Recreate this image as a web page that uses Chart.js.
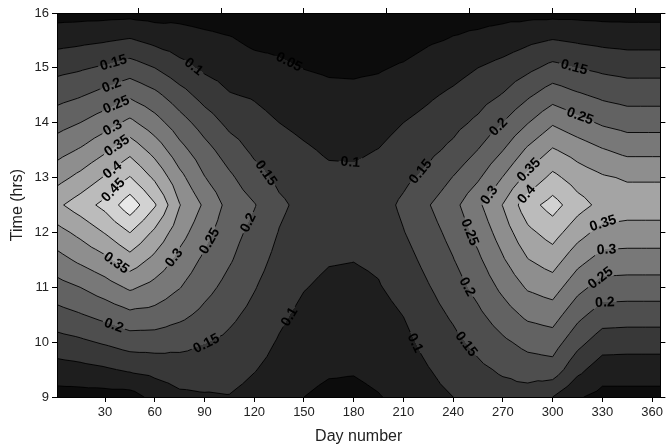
<!DOCTYPE html>
<html>
<head>
<meta charset="utf-8">
<script src="https://cdn.jsdelivr.net/npm/chart.js@4.4.1/dist/chart.umd.min.js"></script>
<style>
  html, body { margin: 0; padding: 0; background: #fff; }
</style>
</head>
<body>
<canvas id="myChart" width="666" height="446"></canvas>
<script>
const ctx = document.getElementById('myChart');

const dayNumbers = [1, 15, 30, 45, 60, 75, 90, 105, 120, 135, 150, 165, 180, 195, 210, 225, 240, 255, 270, 285, 300, 315, 330, 345, 365];
const hours = [9, 9.5, 10, 10.5, 11, 11.5, 12, 12.5, 13, 13.5, 14, 14.5, 15, 15.5, 16];

// one row per day number, from 9 hrs up to 16 hrs
const values = [
    [0.030, 0.079, 0.131, 0.182, 0.231, 0.282, 0.333, 0.390, 0.332, 0.280, 0.230, 0.182, 0.135, 0.083, 0.031], // 1
    [0.030, 0.085, 0.141, 0.197, 0.250, 0.310, 0.363, 0.425, 0.364, 0.305, 0.250, 0.196, 0.144, 0.089, 0.032], // 15
    [0.030, 0.094, 0.156, 0.216, 0.277, 0.338, 0.403, 0.465, 0.405, 0.342, 0.278, 0.217, 0.157, 0.096, 0.033], // 30
    [0.030, 0.107, 0.173, 0.238, 0.308, 0.380, 0.451, 0.530, 0.453, 0.384, 0.312, 0.242, 0.174, 0.105, 0.035], // 45
    [0.065, 0.116, 0.173, 0.233, 0.283, 0.336, 0.390, 0.455, 0.391, 0.331, 0.270, 0.213, 0.150, 0.087, 0.030], // 60
    [0.090, 0.125, 0.165, 0.213, 0.252, 0.284, 0.320, 0.352, 0.315, 0.267, 0.221, 0.171, 0.116, 0.073, 0.035], // 75
    [0.095, 0.124, 0.152, 0.187, 0.216, 0.240, 0.266, 0.292, 0.252, 0.218, 0.177, 0.131, 0.091, 0.063, 0.030], // 90
    [0.098, 0.118, 0.139, 0.161, 0.184, 0.205, 0.219, 0.233, 0.209, 0.175, 0.137, 0.103, 0.079, 0.055, 0.025], // 105
    [0.085, 0.102, 0.119, 0.136, 0.153, 0.170, 0.186, 0.203, 0.169, 0.140, 0.118, 0.095, 0.068, 0.040, 0.020], // 120
    [0.072, 0.085, 0.096, 0.109, 0.122, 0.135, 0.148, 0.160, 0.138, 0.119, 0.100, 0.079, 0.058, 0.038, 0.015], // 135
    [0.050, 0.063, 0.076, 0.089, 0.102, 0.113, 0.124, 0.135, 0.120, 0.106, 0.088, 0.068, 0.049, 0.030, 0.010], // 150
    [0.040, 0.055, 0.067, 0.079, 0.091, 0.103, 0.114, 0.125, 0.110, 0.094, 0.077, 0.061, 0.044, 0.027, 0.010], // 165
    [0.040, 0.053, 0.065, 0.077, 0.089, 0.101, 0.113, 0.125, 0.109, 0.093, 0.076, 0.060, 0.043, 0.026, 0.010], // 180
    [0.048, 0.060, 0.072, 0.084, 0.097, 0.107, 0.118, 0.128, 0.115, 0.101, 0.083, 0.065, 0.046, 0.028, 0.015], // 195
    [0.060, 0.074, 0.087, 0.101, 0.116, 0.132, 0.148, 0.160, 0.138, 0.119, 0.100, 0.077, 0.055, 0.032, 0.020], // 210
    [0.085, 0.098, 0.115, 0.131, 0.147, 0.164, 0.180, 0.197, 0.163, 0.137, 0.115, 0.093, 0.068, 0.045, 0.025], // 225
    [0.100, 0.119, 0.138, 0.157, 0.177, 0.198, 0.216, 0.235, 0.202, 0.162, 0.134, 0.109, 0.082, 0.053, 0.035], // 240
    [0.120, 0.140, 0.163, 0.190, 0.216, 0.241, 0.266, 0.290, 0.243, 0.201, 0.160, 0.128, 0.100, 0.060, 0.035], // 255
    [0.130, 0.157, 0.191, 0.227, 0.262, 0.295, 0.324, 0.352, 0.302, 0.249, 0.201, 0.153, 0.117, 0.073, 0.035], // 270
    [0.125, 0.174, 0.215, 0.261, 0.306, 0.348, 0.388, 0.430, 0.364, 0.309, 0.248, 0.192, 0.138, 0.090, 0.035], // 285
    [0.100, 0.179, 0.224, 0.273, 0.323, 0.373, 0.421, 0.470, 0.413, 0.355, 0.294, 0.228, 0.164, 0.102, 0.035], // 300
    [0.055, 0.114, 0.166, 0.215, 0.266, 0.317, 0.370, 0.420, 0.377, 0.329, 0.267, 0.207, 0.150, 0.094, 0.035], // 315
    [0.035, 0.073, 0.124, 0.176, 0.229, 0.281, 0.332, 0.385, 0.356, 0.304, 0.243, 0.190, 0.139, 0.087, 0.033], // 330
    [0.035, 0.073, 0.121, 0.174, 0.227, 0.278, 0.330, 0.375, 0.345, 0.286, 0.230, 0.180, 0.132, 0.083, 0.033], // 345
    [0.035, 0.073, 0.121, 0.174, 0.227, 0.278, 0.330, 0.375, 0.345, 0.286, 0.230, 0.180, 0.132, 0.083, 0.033]  // 365
];

const contourLevels = [0.05, 0.1, 0.15, 0.2, 0.25, 0.3, 0.35, 0.4, 0.45, 0.5];
// grey of each band, darkest (below 0.05) to lightest (above 0.5)
const bandGreys = [12, 30, 56, 78, 98, 120, 142, 164, 187, 210, 232];

// contour labels: text, day, hour
const labelSpots = [
    ['0.15', 35, 15.1], ['0.2', 33, 14.75], ['0.25', 36, 14.38], ['0.3', 33, 13.99],
    ['0.35', 36, 13.63], ['0.4', 32, 13.23], ['0.45', 33, 12.83],
    ['0.35', 36, 11.41], ['0.3', 72, 11.53], ['0.25', 92, 11.86], ['0.2', 35, 10.28],
    ['0.15', 91, 9.98], ['0.2', 113.5, 12.22], ['0.1', 85, 15.08], ['0.05', 140, 15.05],
    ['0.15', 127, 13.08], ['0.1', 178, 13.29], ['0.15', 219, 13.14],
    ['0.1', 139, 10.5], ['0.1', 218, 10.0],
    ['0.2', 265, 13.99], ['0.15', 312.6, 14.96], ['0.25', 315.6, 14.05], ['0.35', 285.6, 13.14],
    ['0.3', 261.6, 12.68], ['0.4', 283.6, 12.71],
    ['0.25', 250.6, 12.01], ['0.2', 248.6, 11.01], ['0.15', 248.6, 9.98],
    ['0.35', 330.6, 12.14], ['0.3', 332.6, 11.65], ['0.25', 329.6, 11.13], ['0.2', 331.6, 10.68]
];

const xTicks = [30, 60, 90, 120, 150, 180, 210, 240, 270, 300, 330, 360];
const xTopTicks = [50, 100, 150, 200, 250, 300, 350];
const yTicks = [9, 10, 11, 12, 13, 14, 15, 16];

function cellIndex(arr, v) {
    let i = 0;
    while (i < arr.length - 2 && v > arr[i + 1]) i++;
    return i;
}

// value inside a triangle, by barycentric weights
function planeValue(u, w, p) {
    const [x1, y1, v1] = p[0], [x2, y2, v2] = p[1], [x3, y3, v3] = p[2];
    const det = (y2 - y3) * (x1 - x3) + (x3 - x2) * (y1 - y3);
    const l1 = ((y2 - y3) * (u - x3) + (x3 - x2) * (w - y3)) / det;
    const l2 = ((y3 - y1) * (u - x3) + (x1 - x3) * (w - y3)) / det;
    return l1 * v1 + l2 * v2 + (1 - l1 - l2) * v3;
}

// each grid cell is cut in four triangles round its centre
function cellTriangles(i, j) {
    const a = values[i][j], b = values[i + 1][j], c = values[i][j + 1], d = values[i + 1][j + 1];
    const m = (a + b + c + d) / 4;
    return [
        [[0, 0, a], [1, 0, b], [0.5, 0.5, m]],
        [[1, 0, b], [1, 1, d], [0.5, 0.5, m]],
        [[1, 1, d], [0, 1, c], [0.5, 0.5, m]],
        [[0, 1, c], [0, 0, a], [0.5, 0.5, m]]
    ];
}

function fieldAt(day, hour) {
    day = Math.min(Math.max(day, dayNumbers[0]), dayNumbers[dayNumbers.length - 1]);
    hour = Math.min(Math.max(hour, hours[0]), hours[hours.length - 1]);
    const i = cellIndex(dayNumbers, day), j = cellIndex(hours, hour);
    const u = (day - dayNumbers[i]) / (dayNumbers[i + 1] - dayNumbers[i]);
    const w = (hour - hours[j]) / (hours[j + 1] - hours[j]);
    const tris = cellTriangles(i, j);
    let t;
    if (w <= u && w <= 1 - u) t = tris[0];
    else if (u >= w && u >= 1 - w) t = tris[1];
    else if (w >= u && w >= 1 - u) t = tris[2];
    else t = tris[3];
    return planeValue(u, w, t);
}

const contourPlugin = {
    id: 'contour',
    beforeDraw(chart) {
        const c = chart.ctx;
        const area = chart.chartArea;
        const x = chart.scales.x, y = chart.scales.y;

        // filled bands
        const left = Math.round(area.left), top = Math.round(area.top);
        const w = Math.round(area.right) - left, h = Math.round(area.bottom) - top;
        const img = c.createImageData(w, h);
        const colDays = [];
        for (let px = 0; px < w; px++) colDays.push(x.getValueForPixel(left + px + 0.5));
        for (let py = 0; py < h; py++) {
            const hour = y.getValueForPixel(top + py + 0.5);
            for (let px = 0; px < w; px++) {
                const v = fieldAt(colDays[px], hour);
                let band = 0;
                while (band < contourLevels.length && v >= contourLevels[band]) band++;
                const g = bandGreys[band];
                const k = (py * w + px) * 4;
                img.data[k] = g; img.data[k + 1] = g; img.data[k + 2] = g; img.data[k + 3] = 255;
            }
        }
        c.putImageData(img, left, top);

        // label positions, moved onto their contour
        const pix = (px, py) => fieldAt(x.getValueForPixel(px), y.getValueForPixel(py));
        c.font = 'bold 14px "Liberation Sans", Arial, sans-serif';
        const labels = labelSpots.map(([text, day, hour]) => {
            const level = parseFloat(text);
            let px = x.getPixelForValue(day), py = y.getPixelForValue(hour);
            let gx = 0, gy = 0;
            for (let k = 0; k < 8; k++) {
                gx = (pix(px + 1.5, py) - pix(px - 1.5, py)) / 3;
                gy = (pix(px, py + 1.5) - pix(px, py - 1.5)) / 3;
                const g2 = gx * gx + gy * gy;
                if (g2 < 1e-12) break;
                let step = (level - pix(px, py)) / g2;
                let dx = step * gx, dy = step * gy;
                const len = Math.hypot(dx, dy);
                if (len > 4) { dx *= 4 / len; dy *= 4 / len; }
                px += dx; py += dy;
            }
            let angle = Math.atan2(-gx, gy);
            if (angle > Math.PI / 2) angle -= Math.PI;
            if (angle < -Math.PI / 2) angle += Math.PI;
            return { text, x: px, y: py, angle, w: c.measureText(text).width + 4, h: 13 };
        });

        // contour lines, with gaps under the labels
        c.save();
        c.beginPath();
        c.rect(area.left, area.top, area.right - area.left, area.bottom - area.top);
        labels.forEach(l => {
            const cs = Math.cos(l.angle), sn = Math.sin(l.angle);
            const hw = l.w / 2, hh = l.h / 2;
            const pts = [[-hw, -hh], [hw, -hh], [hw, hh], [-hw, hh]]
                .map(([a, b]) => [l.x + a * cs - b * sn, l.y + a * sn + b * cs]);
            c.moveTo(pts[0][0], pts[0][1]);
            for (let k = 1; k < 4; k++) c.lineTo(pts[k][0], pts[k][1]);
            c.closePath();
        });
        c.clip('evenodd');

        c.beginPath();
        for (let i = 0; i < dayNumbers.length - 1; i++) {
            for (let j = 0; j < hours.length - 1; j++) {
                const x0 = x.getPixelForValue(dayNumbers[i]), x1 = x.getPixelForValue(dayNumbers[i + 1]);
                const y0 = y.getPixelForValue(hours[j]), y1 = y.getPixelForValue(hours[j + 1]);
                const toPx = (p) => [x0 + (x1 - x0) * p[0], y0 + (y1 - y0) * p[1], p[2]];
                cellTriangles(i, j).forEach(tri => {
                    const t = tri.map(toPx);
                    contourLevels.forEach(level => {
                        const hits = [];
                        for (let e = 0; e < 3; e++) {
                            const p = t[e], q = t[(e + 1) % 3];
                            if ((p[2] >= level) !== (q[2] >= level)) {
                                const f = (level - p[2]) / (q[2] - p[2]);
                                hits.push([p[0] + (q[0] - p[0]) * f, p[1] + (q[1] - p[1]) * f]);
                            }
                        }
                        if (hits.length === 2) {
                            c.moveTo(hits[0][0], hits[0][1]);
                            c.lineTo(hits[1][0], hits[1][1]);
                        }
                    });
                });
            }
        }
        c.strokeStyle = '#000';
        c.lineWidth = 0.9;
        c.stroke();
        c.restore();

        // label text
        c.save();
        c.fillStyle = '#000';
        c.textAlign = 'center';
        c.textBaseline = 'middle';
        labels.forEach(l => {
            c.save();
            c.translate(l.x, l.y);
            c.rotate(l.angle);
            c.fillText(l.text, 0, 0.5);
            c.restore();
        });
        c.restore();
    }
};

const tickFont = { family: '"Liberation Sans", Arial, sans-serif', size: 13 };
const titleFont = { family: '"Liberation Sans", Arial, sans-serif', size: 16 };
const axisGrid = { drawOnChartArea: false, drawTicks: true, tickLength: 5, color: '#000', lineWidth: 1 };

const myChart = new Chart(ctx, {
    type: 'scatter',
    data: { datasets: [{ data: [] }] },
    plugins: [contourPlugin],
    options: {
        responsive: false,
        animation: false,
        layout: { padding: 0 },
        plugins: { legend: { display: false }, tooltip: { enabled: false } },
        scales: {
            x: {
                type: 'linear', position: 'bottom', min: 1, max: 365,
                afterBuildTicks: s => { s.ticks = xTicks.map(v => ({ value: v })); },
                afterFit: s => { s.height = 49; },
                ticks: { font: tickFont, color: '#222', padding: 3, maxRotation: 0 },
                grid: axisGrid,
                border: { color: '#000', width: 1 },
                title: { display: true, text: 'Day number', font: titleFont, color: '#222', padding: { top: 0, bottom: 0 } }
            },
            x2: {
                type: 'linear', position: 'top', min: 1, max: 365,
                afterBuildTicks: s => { s.ticks = xTopTicks.map(v => ({ value: v })); },
                afterFit: s => { s.height = 13; },
                ticks: { display: false },
                grid: axisGrid,
                border: { color: '#000', width: 1 }
            },
            y: {
                type: 'linear', position: 'left', min: 9, max: 16,
                afterBuildTicks: s => { s.ticks = yTicks.map(v => ({ value: v })); },
                afterFit: s => { s.width = 57; },
                ticks: { font: tickFont, color: '#222', padding: 3 },
                grid: axisGrid,
                border: { color: '#000', width: 1 },
                title: { display: true, text: 'Time (hrs)', font: titleFont, color: '#222', padding: { top: 8, bottom: 0 } }
            },
            y2: {
                type: 'linear', position: 'right', min: 9, max: 16,
                afterBuildTicks: s => { s.ticks = yTicks.map(v => ({ value: v })); },
                afterFit: s => { s.width = 2; },
                ticks: { display: false },
                grid: axisGrid,
                border: { color: '#000', width: 1 }
            }
        }
    }
});
</script>
</body>
</html>
